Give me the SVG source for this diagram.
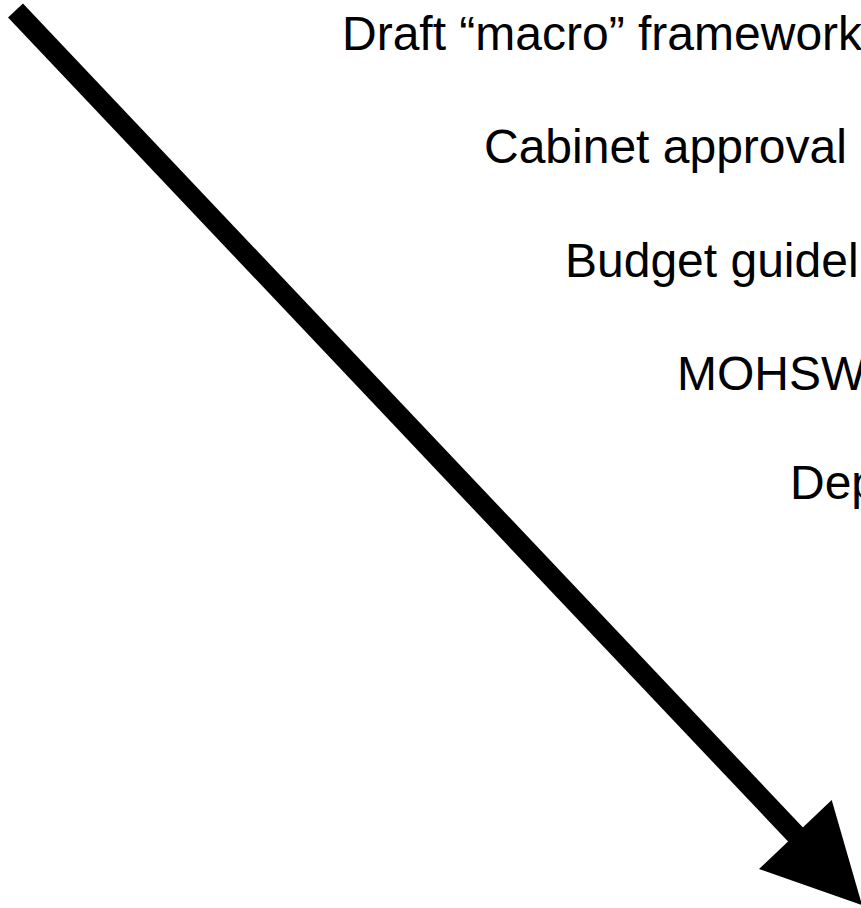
<svg xmlns="http://www.w3.org/2000/svg" width="861" height="908" viewBox="0 0 861 908">
<style>
.lbl{font-family:"Liberation Sans",Arial,Helvetica,sans-serif;font-size:48px;fill:#000}
.shaft{stroke:#000;stroke-width:20.5;fill:none;stroke-linecap:butt}
.head{fill:#000;stroke:none}
</style>
<rect width="861" height="908" fill="#fff"/>
<g id="connectors">
<line class="shaft" x1="15.5" y1="10.5" x2="796" y2="835"/>
<polygon class="head" points="831.7,800 862,905 759,869"/>
</g>
<g id="step-draft"><text class="lbl" x="342" y="50">Draft “macro” framework</text></g>
<g id="step-cabinet"><text class="lbl" x="484" y="163">Cabinet approval</text></g>
<g id="step-budget"><text class="lbl" x="565" y="277">Budget guideli</text></g>
<g id="step-mohsw"><text class="lbl" x="677" y="390">MOHSW</text></g>
<g id="step-dep"><text class="lbl" x="790" y="499">Dep</text></g>
</svg>
